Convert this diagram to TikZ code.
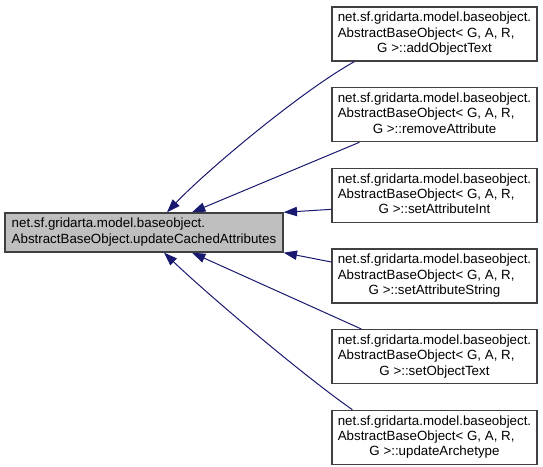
\documentclass[tikz,border=0pt]{standalone}
\usepackage{fontspec}
\setmainfont{Liberation Sans}
\usepackage{tikz}
\usetikzlibrary{arrows.meta,positioning}
\definecolor{edgeblue}{HTML}{191970}
\definecolor{boxgray}{HTML}{BFBFBF}
\definecolor{boxline}{HTML}{404040}
\newcommand{\membertext}[1]{\begin{tabular}{@{}l@{}}net.sf.gridarta.model.baseobject.\\AbstractBaseObject< G, A, R,\\\multicolumn{1}{@{}c@{}}{G >::#1}\end{tabular}}

\begin{document}
\begin{tikzpicture}[
    x=0.75pt, y=-0.75pt,
    font=\fontsize{10}{11.5}\selectfont,
    node distance=19pt,
    member/.style={draw=boxline, line width=1pt, fill=white, minimum width=153.75pt, minimum height=40.5pt, inner sep=0pt},
    target/.style={member, fill=boxgray, minimum width=208.5pt, minimum height=29.25pt},
    line/.style={-{Triangle[length=10pt, width=7pt]}, draw=edgeblue, line width=0.75pt}
  ]
    \useasboundingbox (0,0) rectangle (543,467);
    \node[member] (add) at (434.5,34) {\membertext{addObjectText}};
    \node[member, below=of add] (remove) {\membertext{removeAttribute}};
    \node[member, below=of remove] (attrint) {\membertext{setAttributeInt}};
    \node[member, below=of attrint] (attrstring) {\membertext{setAttributeString}};
    \node[member, below=of attrstring] (objtext) {\membertext{setObjectText}};
    \node[member, below=of objtext] (archetype) {\membertext{updateArchetype}};
    \node[target] (update) at (144,232.5) {\begin{tabular}{@{}l@{}}net.sf.gridarta.model.baseobject.\\AbstractBaseObject.updateCachedAttributes\end{tabular}};

    \draw[line] ([shift={(23,0)}]add.south west) .. controls (300,92) and (205,172) .. ([shift={(23,0)}]update.north);
    \draw[line] ([shift={(28,0)}]remove.south west) -- ([shift={(48,0)}]update.north);
    \draw[line] ([shift={(0,14)}]attrint.west) -- (update.north east);
    \draw[line] ([shift={(0,-14)}]attrstring.west) -- (update.south east);
    \draw[line] ([shift={(30,0)}]objtext.north west) -- ([shift={(48,0)}]update.south);
    \draw[line] ([shift={(21,0)}]archetype.north west) .. controls (300,373) and (205,292) .. ([shift={(20,0)}]update.south);
  \end{tikzpicture}
\end{document}
